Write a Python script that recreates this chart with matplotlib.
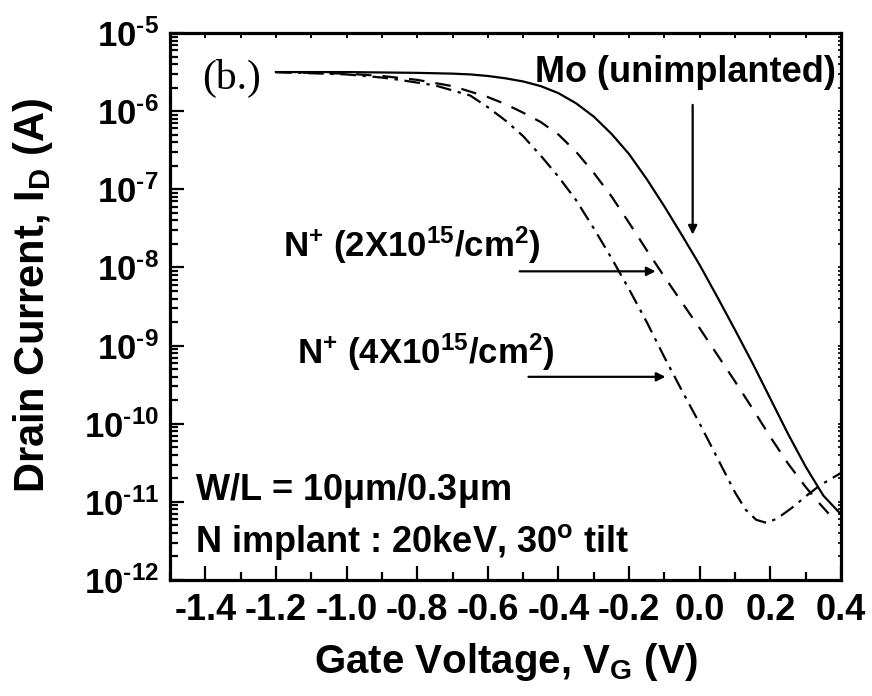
import numpy as np
import matplotlib
matplotlib.use("Agg")
import matplotlib.pyplot as plt
from matplotlib.ticker import FixedLocator, FixedFormatter, LogLocator, NullFormatter

plt.rcParams['font.family'] = ['Liberation Sans', 'DejaVu Sans']
plt.rcParams['font.weight'] = 'bold'
plt.rcParams['axes.labelweight'] = 'bold'
plt.rcParams['mathtext.fontset'] = 'custom'
plt.rcParams['mathtext.rm'] = 'Liberation Sans:bold'
plt.rcParams['mathtext.bf'] = 'Liberation Sans:bold'
plt.rcParams['mathtext.it'] = 'Liberation Sans:bold'
plt.rcParams['mathtext.default'] = 'bf'
plt.rcParams['axes.unicode_minus'] = False

#-- transfer curves, log10(Id) vs Vg
vg_mo = [-1.20, -1.00, -0.80, -0.70, -0.65, -0.60, -0.55, -0.50, -0.45, -0.40,
         -0.35, -0.30, -0.25, -0.20, -0.15, -0.10, -0.05, 0.00, 0.05, 0.10,
         0.15, 0.20, 0.25, 0.30, 0.35, 0.40]
log_id_mo = [-5.50, -5.50, -5.51, -5.52, -5.53, -5.55, -5.58, -5.62, -5.68, -5.77,
             -5.90, -6.07, -6.29, -6.55, -6.87, -7.22, -7.59, -7.97, -8.38, -8.80,
             -9.23, -9.68, -10.13, -10.55, -10.92, -11.16]

vg_2e15 = [-1.20, -1.00, -0.90, -0.80, -0.70, -0.65, -0.60, -0.55, -0.50, -0.45,
           -0.40, -0.35, -0.30, -0.25, -0.20, -0.15, -0.10, -0.05, 0.00, 0.05,
           0.10, 0.15, 0.20, 0.25, 0.30, 0.335, 0.365]
log_id_2e15 = [-5.50, -5.52, -5.55, -5.60, -5.68, -5.75, -5.82, -5.91, -6.02, -6.14,
               -6.30, -6.52, -6.79, -7.09, -7.43, -7.78, -8.12, -8.45, -8.78, -9.12,
               -9.46, -9.81, -10.17, -10.51, -10.81, -11.00, -11.15]

vg_4e15 = [-1.20, -1.00, -0.90, -0.85, -0.75, -0.65, -0.60, -0.55, -0.50, -0.45,
           -0.40, -0.35, -0.30, -0.25, -0.20, -0.15, -0.10, -0.05, 0.00, 0.05,
           0.10, 0.13, 0.16, 0.19, 0.22, 0.26, 0.30, 0.34, 0.40]
log_id_4e15 = [-5.50, -5.53, -5.57, -5.60, -5.67, -5.80, -5.95, -6.12, -6.32, -6.57,
               -6.84, -7.14, -7.50, -7.88, -8.28, -8.70, -9.15, -9.58, -10.00, -10.44,
               -10.88, -11.10, -11.23, -11.27, -11.21, -11.08, -10.93, -10.79, -10.63]

xticks = [-1.4, -1.2, -1.0, -0.8, -0.6, -0.4, -0.2, 0.0, 0.2, 0.4]
xtick_labels = ['-1.4', '-1.2', '-1.0', '-0.8', '-0.6', '-0.4', '-0.2', '0.0', '0.2', '0.4']
yticks = [1e-12, 1e-11, 1e-10, 1e-9, 1e-8, 1e-7, 1e-6, 1e-5]
ytick_labels = ['$10^{\u201012}$', '$10^{\u201011}$', '$10^{\u201010}$', '$10^{\u20109}$',
                '$10^{\u20108}$', '$10^{\u20107}$', '$10^{\u20106}$', '$10^{\u20105}$']


fig = plt.figure(figsize=(8.72, 6.96), dpi=100)
ax = fig.add_axes([170/872, 116/696, 671/872, 547/696])

ax.plot(vg_mo, 10**np.array(log_id_mo), color='black', lw=1.6, ls='-')
ax.plot(vg_2e15, 10**np.array(log_id_2e15), color='black', lw=1.6, ls=(0, (7, 5)))
ax.plot(vg_4e15, 10**np.array(log_id_4e15), color='black', lw=1.6, ls=(0, (7, 3, 1.5, 3)))

ax.set_yscale('log')
ax.set_xlim(-1.5, 0.4)
ax.set_ylim(1e-12, 1e-5)

ax.xaxis.set_major_locator(FixedLocator(xticks))
ax.xaxis.set_major_formatter(FixedFormatter(xtick_labels))
ax.xaxis.set_minor_locator(FixedLocator(np.arange(-1.5, 0.41, 0.1)))
ax.yaxis.set_major_locator(FixedLocator(yticks))
ax.yaxis.set_major_formatter(FixedFormatter(ytick_labels))
ax.yaxis.set_minor_locator(LogLocator(base=10, subs=np.arange(2, 10)))
ax.yaxis.set_minor_formatter(NullFormatter())

ax.tick_params(which='both', direction='in', top=False, right=False, width=1.6)
ax.tick_params(which='major', length=10, pad=9)
ax.tick_params(which='minor', length=5.5)
ax.tick_params(axis='x', labelsize=26)
ax.tick_params(axis='y', labelsize=25, pad=8)
for s in ax.spines.values():
    s.set_linewidth(2.3)

# short ticks on top and right edges
top = ax.secondary_xaxis('top')
top.xaxis.set_major_locator(FixedLocator(np.arange(-1.5, 0.41, 0.1)))
top.tick_params(direction='in', length=3.5, width=1.4, labeltop=False)
right = ax.secondary_yaxis('right')
right.yaxis.set_major_locator(FixedLocator(yticks))
right.yaxis.set_minor_locator(LogLocator(base=10, subs=np.arange(2, 10)))
right.tick_params(which='both', direction='in', length=2.5, width=1.2, labelright=False)
right.yaxis.set_minor_formatter(NullFormatter())

ax.set_xlabel(r'Gate Voltage, V$_{G}$ (V)', fontsize=29, labelpad=10)
ax.set_ylabel(r'Drain Current, I$_{D}$ (A)', fontsize=30)
ax.yaxis.set_label_coords(-0.171, 0.52)

ax.text(-1.41, 10**-5.72, '(b.)', family='Liberation Serif', fontweight='normal',
        fontsize=30, ha='left', va='baseline')
ax.text(0.385, 10**-5.63, 'Mo (unimplanted)', fontsize=26, ha='right', va='baseline')
ax.text(-1.18, 10**-7.86, r'N$^{+}$ (2X10$^{15}$/cm$^{2}$)', fontsize=25, ha='left', va='baseline')
ax.text(-1.14, 10**-9.23, r'N$^{+}$ (4X10$^{15}$/cm$^{2}$)', fontsize=25, ha='left', va='baseline')
ax.text(-1.43, 10**-10.98, r'W/L = 10$\mu$m/0.3$\mu$m', fontsize=26, ha='left', va='baseline')
ax.text(-1.43, 10**-11.64, r'N implant : 20keV, 30$^{\mathrm{o}}$ tilt', fontsize=26, ha='left', va='baseline')

arrow = dict(arrowstyle='-|>', color='black', lw=1.6, mutation_scale=13, shrinkA=0, shrinkB=0)
ax.annotate('', xy=(-0.02, 10**-7.58), xytext=(-0.02, 10**-5.92), arrowprops=arrow)
ax.annotate('', xy=(-0.125, 10**-8.05), xytext=(-0.51, 10**-8.05), arrowprops=arrow)
ax.annotate('', xy=(-0.097, 10**-9.40), xytext=(-0.485, 10**-9.40), arrowprops=arrow)

fig.savefig('out.png', dpi=100)
